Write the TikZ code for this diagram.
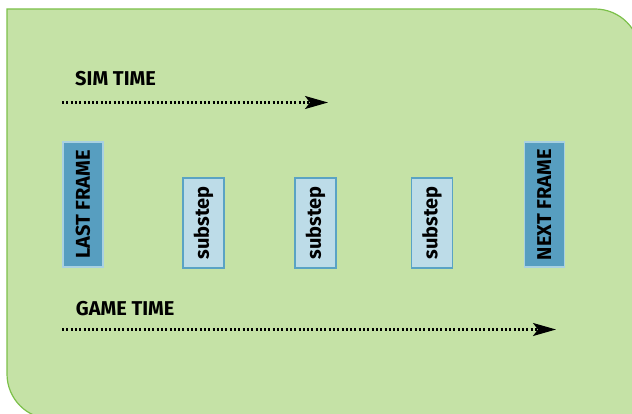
\documentclass[tikz,border=0pt]{standalone}
\usepackage{fontspec}
\setmainfont{Fira Sans}
\usetikzlibrary{arrows.meta}
\definecolor{bgfill}{HTML}{C5E2A6}
\definecolor{bgline}{HTML}{7CC04A}
\definecolor{framefill}{HTML}{579EC0}
\definecolor{frameline}{HTML}{A9D1E2}
\definecolor{subfill}{HTML}{BDDCE8}
\definecolor{subline}{HTML}{5AA3C4}
\tikzset{
  lbl/.style={font=\fontsize{20}{24}\selectfont\bfseries, text=black},
  framebox/.style={lbl, draw=frameline, fill=framefill, line width=1.5pt, rotate=90,
    minimum width=125pt, minimum height=40pt, inner sep=0pt},
  subbox/.style={lbl, draw=subline, fill=subfill, line width=1.5pt, rotate=90,
    minimum width=90pt, minimum height=41pt, inner sep=0pt},
  timearrow/.style={line width=2.2pt, dash pattern=on 2pt off 2.3pt,
    -{Stealth[length=23pt,width=13pt,inset=5pt]}},
  timelabel/.style={lbl, anchor=base west, inner sep=0pt}
}
\begin{document}
\begin{tikzpicture}[x=1pt,y=1pt]
\useasboundingbox (0,0) rectangle (632,413);
\clip (0,0) rectangle (632,413);
\path[fill=bgfill, draw=bgline, line width=1.2pt]
  (7,404) -- (595,404) arc[start angle=90,end angle=0,radius=45]
  -- (640,-6) -- (52,-6) arc[start angle=270,end angle=180,radius=45] -- cycle;

\node[timelabel] (simlabel) at (75,327.5) {SIM TIME};
\node[timelabel] (gamelabel) at (75.7,98) {GAME TIME};

\coordinate (simstart) at (62,310.5);
\coordinate (simend) at (328,310.5);
\coordinate (gamestart) at (62,83.5);
\coordinate (gameend) at (556,83.5);
\draw[timearrow] (simstart) -- (simend);
\draw[timearrow] (gamestart) -- (gameend);

\node[framebox] (last) at (83,208.5) {LAST FRAME};
\node[subbox] (sub1) at (203.5,190) {substep};
\node[subbox] (sub2) at (315.5,190) {substep};
\node[subbox] (sub3) at (432,190) {substep};
\node[framebox] (next) at (544.3,208.5) {NEXT FRAME};
\end{tikzpicture}
\end{document}
